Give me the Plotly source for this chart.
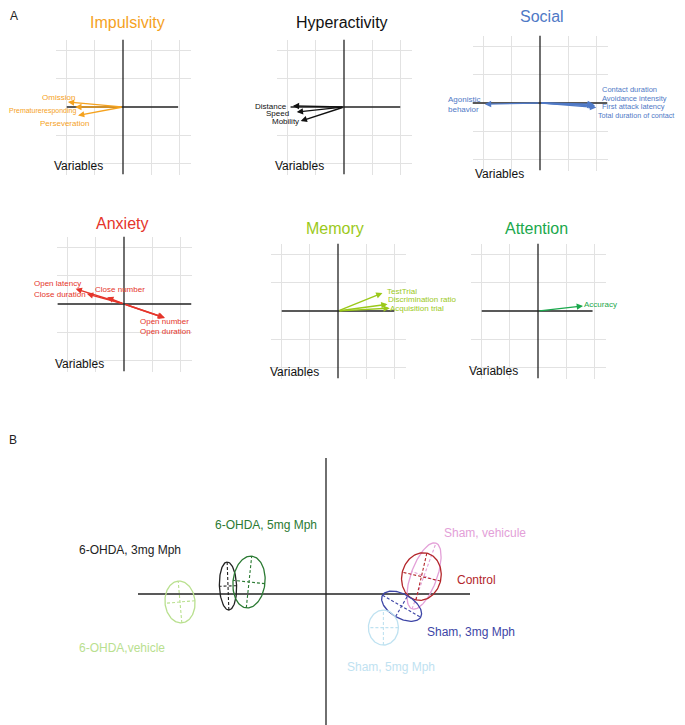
import numpy as np
import plotly.graph_objects as go

FONT = "Liberation Sans, Arial, Helvetica, sans-serif"
OFF = 8                      # browser default body margin
W, H = 685 - OFF, 725 - OFF

# ---------------- Panel A data (variable loadings) ----------------
panel_titles = ["Impulsivity", "Hyperactivity", "Social", "Anxiety", "Memory", "Attention"]
panel_colors = ["#F5A21E", "#111111", "#4F79C6", "#E5352B", "#9BC91A", "#1AA84C"]

imp_vars = ["Omission", "Prematureresponding", "Perseveration"]
imp_x = [-0.98, -0.85, -0.80]
imp_y = [0.09, 0.0, -0.15]

hyp_vars = ["Distance", "Speed", "Mobility"]
hyp_x = [-0.91, -0.84, -0.77]
hyp_y = [0.02, -0.09, -0.25]

soc_vars = ["Agonistic<br>behavior", "Contact duration", "Avoidance intensity",
            "First attack latency", "Total duration of contact"]
soc_x = [-0.98, 0.96, 0.98, 1.00, 0.95]
soc_y = [-0.02, -0.02, -0.05, -0.08, -0.04]

anx_vars = ["Open latency", "Close duration", "Close number", "Open number", "Open duration"]
anx_x = [-0.86, -0.66, -0.30, 0.73, 0.71]
anx_y = [0.27, 0.18, 0.12, -0.25, -0.24]

mem_vars = ["TestTrial", "Discrimination ratio", "Acquisition trial"]
mem_x = [0.79, 0.88, 0.92]
mem_y = [0.32, 0.12, 0.05]

att_vars = ["Accuracy"]
att_x = [0.80]
att_y = [0.09]

# ---------------- Panel B data (group ellipses) ----------------
groups = ["6-OHDA,vehicle", "6-OHDA, 3mg Mph", "6-OHDA, 5mg Mph", "Sham, vehicule",
          "Control", "Sham, 3mg Mph", "Sham, 5mg Mph"]
grp_cx = [-7.3, -4.9, -3.85, 4.9, 4.77, 3.78, 2.87]
grp_cy = [-0.4, 0.4, 0.6, 0.9, 0.87, -0.61, -1.68]
grp_major = [1.05, 1.2, 1.3, 1.75, 1.2, 1.1, 0.875]
grp_minor = [0.75, 0.43, 0.8, 0.65, 0.98, 0.6, 0.75]
grp_angle = [95, 92, 84, 70, 77, -30, 90]
grp_colors = ["#B9E08F", "#222222", "#2B7A33", "#E3A0D8", "#B3262A", "#3D45A6", "#BFE2F1"]

# ---------------- layout / style (positions, not data) ----------------
panel_data = [
    (imp_vars, imp_x, imp_y), (hyp_vars, hyp_x, hyp_y), (soc_vars, soc_x, soc_y),
    (anx_vars, anx_x, anx_y), (mem_vars, mem_x, mem_y), (att_vars, att_x, att_y),
]
# label placements per panel (pixel offsets from panel centre, anchor, font size)
label_pos = [
    [(-65, -10, "center", 8), (-115, 4, "left", 7), (-59, 16, "center", 8)],
    [(-73, -1, "center", 8), (-67, 6, "center", 8), (-59, 15, "center", 8)],
    [(-93, 1, "left", 8), (61, -14, "left", 7.5), (61, -5, "left", 7.5),
     (61, 4, "left", 7.5), (57, 13, "left", 7.2)],
    [(-67, -21, "center", 8), (-64, -10, "center", 8), (-4, -15, "center", 8),
     (40, 18, "center", 8), (41, 27, "center", 8)],
    [(48, -20, "left", 8), (49, -12, "left", 8), (51, -3, "left", 8)],
    [(45, -7, "left", 8)],
]
centers_px = [(123, 107), (344, 107), (540, 103), (124, 304), (338, 311), (538, 311)]
hline_ext = [(-1.0, 0.98), (-0.95, 1.0), (-1.2, 1.2), (-1.18, 1.2), (-1.0, 1.0), (-1.0, 0.97)]
title_px = [(127, 22), (342, 22), (542, 17), (122, 223), (335, 229), (536, 228)]
var_px = [(52, 166), (273, 166), (473, 174), (53, 364), (268, 372), (467, 371)]
HALF = 67.5
R = 1.2


def px2x(p):
    return (p - OFF) / W


def px2y(p):
    return 1 - (p - OFF) / H


def dom_x(a, b):
    return [px2x(a), px2x(b)]


def dom_y(top, bottom):
    return [px2y(bottom), px2y(top)]


fig = go.Figure()
annotations = []
layout = dict(
    width=W, height=H, margin=dict(l=0, r=0, t=0, b=0),
    paper_bgcolor="white", plot_bgcolor="white", showlegend=False,
    font=dict(family=FONT, color="#111"),
)

for i in range(6):
    n = i + 1
    xa = "x" if n == 1 else f"x{n}"
    ya = "y" if n == 1 else f"y{n}"
    xkey = "xaxis" if n == 1 else f"xaxis{n}"
    ykey = "yaxis" if n == 1 else f"yaxis{n}"
    cxp, cyp = centers_px[i]
    axcommon = dict(range=[-R, R], tickvals=[-1, -0.5, 0.5, 1], showgrid=True,
                    gridcolor="#E2E2E2", gridwidth=1, showticklabels=False, ticks="",
                    zeroline=False, showline=False, fixedrange=True)
    layout[xkey] = dict(domain=dom_x(cxp - HALF, cxp + HALF), anchor=ya, **axcommon)
    layout[ykey] = dict(domain=dom_y(cyp - HALF, cyp + HALF), anchor=xa, **axcommon)

    h0, h1 = hline_ext[i]
    fig.add_trace(go.Scatter(x=[h0, h1, None, 0, 0], y=[0, 0, None, -R, R], mode="lines",
                             line=dict(color="#222", width=1.3), xaxis=xa, yaxis=ya,
                             hoverinfo="skip"))
    col = panel_colors[i]
    names, vx, vy = panel_data[i]
    for j, nm in enumerate(names):
        annotations.append(dict(x=vx[j], y=vy[j], xref=xa, yref=ya, ax=0, ay=0,
                                axref=xa, ayref=ya, showarrow=True, text="",
                                arrowhead=2, arrowsize=0.9, arrowwidth=1.4,
                                arrowcolor=col, standoff=0, startstandoff=0))
        dx, dy, anc, fs = label_pos[i][j]
        annotations.append(dict(x=px2x(cxp + dx), y=px2y(cyp + dy), xref="paper", yref="paper",
                                text=nm, showarrow=False, xanchor=anc, yanchor="middle",
                                align="left", borderpad=0,
                                font=dict(size=fs, color=col, family=FONT)))
    tx, ty = title_px[i]
    annotations.append(dict(x=px2x(tx), y=px2y(ty), xref="paper", yref="paper",
                            text=panel_titles[i], showarrow=False, xanchor="center",
                            yanchor="middle", font=dict(size=16, color=col, family=FONT)))
    vxp, vyp = var_px[i]
    annotations.append(dict(x=px2x(vxp), y=px2y(vyp), xref="paper", yref="paper",
                            text="Variables", showarrow=False, xanchor="left",
                            yanchor="middle", font=dict(size=12, color="#111", family=FONT)))

# ---------------- Panel B ----------------
SC = 20.0  # px per unit
OX, OY = 326, 594
bx0, bx1, by0, by1 = 60, 560, 455, 725
layout["xaxis7"] = dict(domain=dom_x(bx0, bx1), range=[(bx0 - OX) / SC, (bx1 - OX) / SC],
                        anchor="y7", showgrid=False, zeroline=False, showticklabels=False,
                        ticks="", showline=False, fixedrange=True)
layout["yaxis7"] = dict(domain=dom_y(by0, by1), range=[(OY - by1) / SC, (OY - by0) / SC],
                        anchor="x7", showgrid=False, zeroline=False, showticklabels=False,
                        ticks="", showline=False, fixedrange=True)

fig.add_trace(go.Scatter(x=[(138 - OX) / SC, (470 - OX) / SC, None, 0, 0],
                         y=[0, 0, None, (OY - 458) / SC, (OY - 725) / SC],
                         mode="lines", line=dict(color="#222", width=1.3),
                         xaxis="x7", yaxis="y7", hoverinfo="skip", cliponaxis=False))

t = np.linspace(0, 2 * np.pi, 121)
for k, g in enumerate(groups):
    a, b = grp_major[k], grp_minor[k]
    th = np.deg2rad(grp_angle[k])
    ex = grp_cx[k] + a * np.cos(t) * np.cos(th) - b * np.sin(t) * np.sin(th)
    ey = grp_cy[k] + a * np.cos(t) * np.sin(th) + b * np.sin(t) * np.cos(th)
    fig.add_trace(go.Scatter(x=ex, y=ey, mode="lines",
                             line=dict(color=grp_colors[k], width=1.3),
                             xaxis="x7", yaxis="y7", hoverinfo="skip"))
    mx = [grp_cx[k] - a * np.cos(th), grp_cx[k] + a * np.cos(th), None,
          grp_cx[k] + b * np.sin(th), grp_cx[k] - b * np.sin(th)]
    my = [grp_cy[k] - a * np.sin(th), grp_cy[k] + a * np.sin(th), None,
          grp_cy[k] - b * np.cos(th), grp_cy[k] + b * np.cos(th)]
    fig.add_trace(go.Scatter(x=mx, y=my, mode="lines",
                             line=dict(color=grp_colors[k], width=1.1, dash="3px,2px"),
                             xaxis="x7", yaxis="y7", hoverinfo="skip"))

grp_label_px = [(77, 648), (77, 550), (213, 525), (442, 533), (455, 580), (425, 632), (345, 667)]
for k, g in enumerate(groups):
    px, py = grp_label_px[k]
    annotations.append(dict(x=(px - OX) / SC, y=(OY - py) / SC, xref="x7", yref="y7",
                            text=g, showarrow=False, xanchor="left", yanchor="middle",
                            font=dict(size=12, color=grp_colors[k], family=FONT)))

annotations.append(dict(x=px2x(9), y=1, xref="paper", yref="paper", text="A",
                        showarrow=False, xanchor="left", yanchor="top", borderpad=0,
                        font=dict(size=12, color="#222", family=FONT)))
annotations.append(dict(x=px2x(7), y=px2y(440), xref="paper", yref="paper", text="B",
                        showarrow=False, xanchor="left", yanchor="middle",
                        font=dict(size=12, color="#222", family=FONT)))

layout["annotations"] = annotations
fig.update_layout(**layout)
fig.write_html("out.html")
